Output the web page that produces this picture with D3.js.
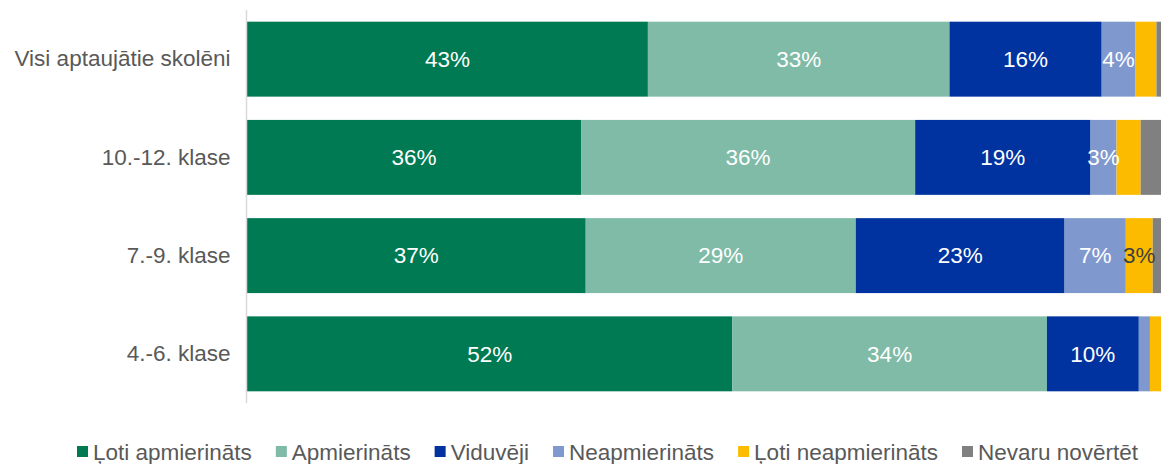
<!DOCTYPE html>
<html>
<head>
<meta charset="utf-8">
<script src="https://cdn.jsdelivr.net/npm/d3@7/dist/d3.min.js"></script>
<style>
  html, body { margin: 0; padding: 0; background: #fff; }
  svg { display: block; }
  text { font-family: "Liberation Sans", Arial, sans-serif; }
</style>
</head>
<body>
<svg id="chart" width="1161" height="464"></svg>
<script>
// Rows, top to bottom
const groups = ["Visi aptaujātie skolēni", "10.-12. klase", "7.-9. klase", "4.-6. klase"];

// Answer categories (stack order, left to right)
const series = ["Ļoti apmierināts", "Apmierināts", "Viduvēji", "Neapmierināts", "Ļoti neapmierināts", "Nevaru novērtēt"];

// Share of answers per category, % (one array per category, rows in the order of `groups`)
const lotiApmierinats    = [43.2, 36.0, 36.5, 52.3];
const apmierinats        = [32.5, 36.0, 29.1, 33.9];
const viduveji           = [16.4, 18.9, 22.5,  9.9];
const neapmierinats      = [ 3.6,  2.8,  6.6,  1.2];
const lotiNeapmierinats  = [ 2.3,  2.6,  2.9,  2.7];
const nevaruNovertet     = [ 2.0,  3.7,  2.4,  0.0];

const colors = ["#007A53", "#7FBBA7", "#0033A0", "#7F99CF", "#FDBB00", "#808080"];

const valueArrays = [lotiApmierinats, apmierinats, viduveji, neapmierinats, lotiNeapmierinats, nevaruNovertet];

const svg = d3.select("#chart");
const fontSize = 22.5;

const x = d3.scaleLinear().domain([0, 100]).range([247, 1175]);
const y = d3.scaleBand().domain(groups).range([10, 403]).paddingInner(0.237).paddingOuter(0.119);

// Build rows for the stack layout
const rows = groups.map((g, i) => {
  const r = { group: g };
  series.forEach((s, j) => { r[s] = valueArrays[j][i]; });
  return r;
});
const stacked = d3.stack().keys(series)(rows);

const plot = svg.append("g");

const layers = plot.selectAll("g.layer")
  .data(stacked)
  .join("g")
  .attr("class", "layer")
  .attr("fill", (d, i) => colors[i]);

layers.selectAll("rect")
  .data(d => d)
  .join("rect")
  .attr("x", d => x(d[0]))
  .attr("y", d => y(d.data.group))
  .attr("width", d => x(d[1]) - x(d[0]))
  .attr("height", y.bandwidth());

// Data labels (percentages rounded to whole numbers); narrow slices stay unlabelled
const fmt = v => Math.round(v) + "%";
stacked.forEach((layer, i) => {
  if (series[i] === "Nevaru novērtēt") return;
  plot.append("g").selectAll("text")
    .data(layer.filter(d => d[1] - d[0] >= 2.75))
    .join("text")
    .attr("x", d => (x(d[0]) + x(d[1])) / 2)
    .attr("y", d => y(d.data.group) + y.bandwidth() / 2)
    .attr("dy", "0.35em")
    .attr("text-anchor", "middle")
    .attr("font-size", fontSize)
    .attr("fill", series[i] === "Ļoti neapmierināts" ? "#404040" : "#ffffff")
    .text(d => fmt(d[1] - d[0]));
});

// Category axis
const yAxis = d3.axisLeft(y).tickSize(0).tickPadding(16);
const yg = svg.append("g").attr("transform", `translate(${x(0) - 0.5},0)`).call(yAxis);
yg.select(".domain").attr("stroke", "#D9D9D9").attr("stroke-width", 1.5)
  .attr("d", "M0,10V403");
yg.selectAll(".tick text")
  .attr("font-size", fontSize)
  .attr("font-family", "Liberation Sans, Arial, sans-serif")
  .attr("fill", "#595959");

// Legend
const legend = svg.append("g");
const items = legend.selectAll("g")
  .data(series)
  .join("g");
items.append("rect")
  .attr("width", 11).attr("height", 11)
  .attr("y", -6)
  .attr("fill", (d, i) => colors[i]);
items.append("text")
  .attr("x", 16)
  .attr("dy", "0.35em")
  .attr("font-size", fontSize)
  .attr("fill", "#595959")
  .text(d => d);

let cursor = 0;
items.each(function () {
  const g = d3.select(this);
  g.attr("transform", `translate(${cursor},0)`);
  const w = 16 + g.select("text").node().getComputedTextLength();
  cursor += w + 24;
});
const total = cursor - 24;
legend.attr("transform", `translate(${Math.round(608 - total / 2)},452)`);
</script>
</body>
</html>
